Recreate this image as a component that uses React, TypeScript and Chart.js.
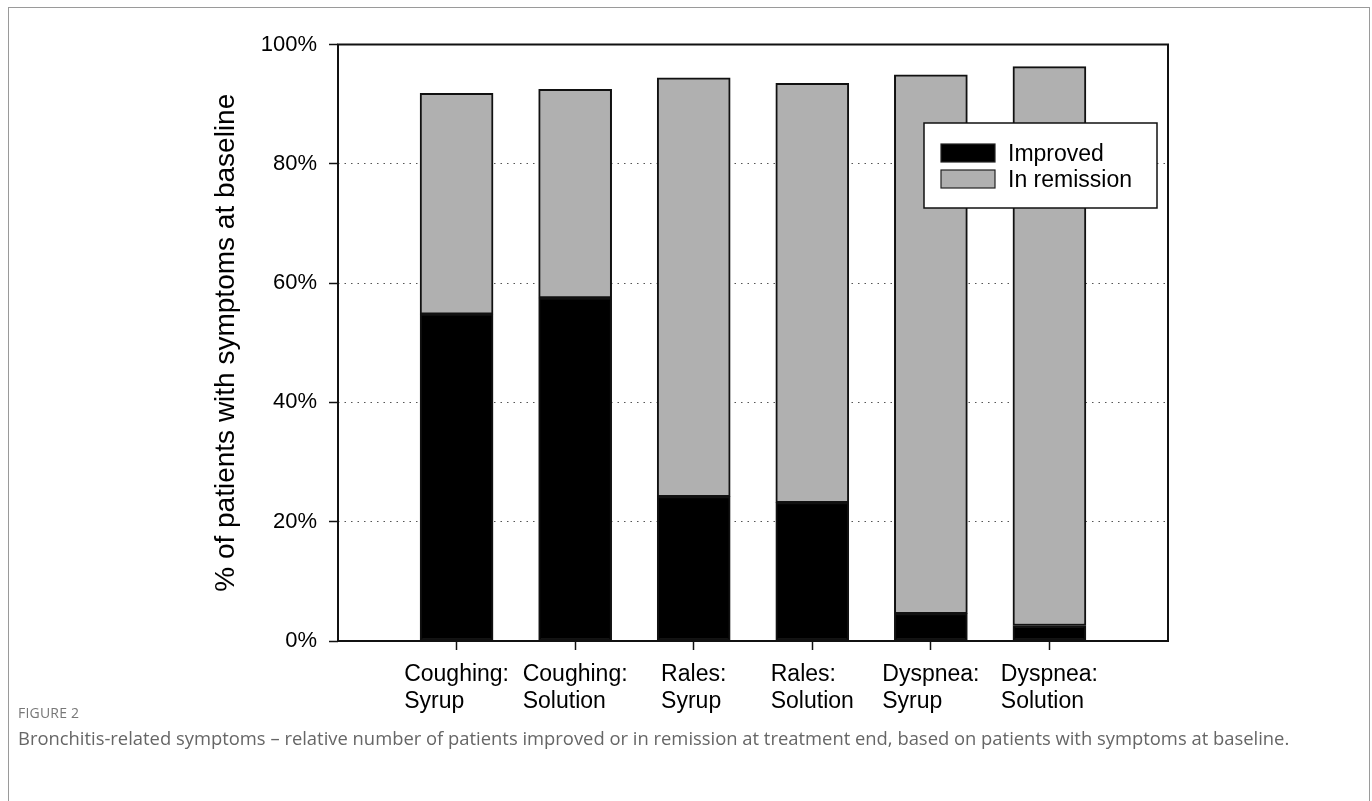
import React, { useEffect, useRef } from "react";
import { Chart, registerables } from "chart.js";

Chart.register(...registerables);

const categories: string[][] = [
  ["Coughing:", "Syrup"],
  ["Coughing:", "Solution"],
  ["Rales:", "Syrup"],
  ["Rales:", "Solution"],
  ["Dyspnea:", "Syrup"],
  ["Dyspnea:", "Solution"],
];
const improved: number[] = [54.8, 57.5, 24.2, 23.2, 4.6, 2.6];
const totalResponders: number[] = [91.8, 92.5, 94.4, 93.5, 94.9, 96.3];
const remission: number[] = totalResponders.map((t, i) => +(t - improved[i]).toFixed(1));
const yTicks: number[] = [0, 20, 40, 60, 80, 100];
const seriesNames: string[] = ["Improved", "In remission"];
const seriesColors: string[] = ["#000000", "#b0b0b0"];

const FONT = "Liberation Sans, Arial, sans-serif";

const W = 1360;
const H = 720;

export default function App() {
  const ref = useRef<HTMLCanvasElement | null>(null);

  useEffect(() => {
    if (!ref.current) return;
    const labels = ["", ...categories.map((c) => c.join(" ")), ""];
    const pad = (arr: number[]) => [null, ...arr, null];

    const boxPlugin = {
      id: "boxPlugin",
      afterDatasetsDraw(chart: any) {
        const { ctx, chartArea } = chart;
        ctx.save();
        ctx.strokeStyle = "#111";
        ctx.lineWidth = 2;
        ctx.strokeRect(chartArea.left, chartArea.top, chartArea.right - chartArea.left, chartArea.bottom - chartArea.top);
        ctx.restore();
      },
      afterDraw(chart: any) {
        const { ctx } = chart;
        const xs = chart.scales.x;
        ctx.save();
        ctx.font = `23px ${FONT}`;
        ctx.fillStyle = "#000";
        ctx.textBaseline = "alphabetic";
        ctx.textAlign = "left";
        categories.forEach((lines, i) => {
          const px = xs.getPixelForValue(i + 1);
          const w = Math.max(...lines.map((l) => ctx.measureText(l).width));
          const left = px - w / 2;
          lines.forEach((l, j) => {
            ctx.fillText(l, left, 673 + j * 27);
          });
        });
        // legend
        const lx = 915, ly = 115, lw = 233, lh = 85;
        ctx.fillStyle = "#fff";
        ctx.fillRect(lx, ly, lw, lh);
        ctx.strokeStyle = "#111";
        ctx.lineWidth = 1.5;
        ctx.strokeRect(lx, ly, lw, lh);
        chart.data.datasets.forEach((ds: any, i: number) => {
          const sy = 136 + i * 26;
          ctx.fillStyle = ds.backgroundColor;
          ctx.fillRect(932, sy, 54, 18);
          ctx.strokeStyle = "#222";
          ctx.lineWidth = 1.2;
          ctx.strokeRect(932, sy, 54, 18);
          ctx.fillStyle = "#000";
          ctx.font = `23px ${FONT}`;
          ctx.fillText(ds.label, 999, 153 + i * 26);
        });
        ctx.restore();
      },
    };

    const chart = new Chart(ref.current, {
      type: "bar",
      data: {
        labels,
        datasets: [
          {
            label: seriesNames[0],
            data: pad(improved) as any,
            backgroundColor: seriesColors[0],
            borderColor: "#111",
            borderWidth: 2,
            borderSkipped: false,
            barThickness: 73,
          },
          {
            label: seriesNames[1],
            data: pad(remission) as any,
            backgroundColor: seriesColors[1],
            borderColor: "#111",
            borderWidth: 2,
            borderSkipped: false,
            barThickness: 73,
          },
        ],
      },
      options: {
        responsive: false,
        animation: false,
        layout: { padding: { top: 36.5, right: 201, bottom: 0, left: 0 } },
        plugins: { legend: { display: false }, tooltip: { enabled: false } },
        scales: {
          x: {
            stacked: true,
            offset: false,
            grid: {
              offset: false,
              drawOnChartArea: false,
              drawTicks: true,
              tickLength: 9,
              tickWidth: 1.5,
              tickColor: (c: any) => (c.index === 0 || c.index === labels.length - 1 ? "rgba(0,0,0,0)" : "#111"),
            },
            border: { display: false },
            ticks: { display: false },
            afterFit: (s: any) => {
              s.height = H - 633;
            },
          },
          y: {
            stacked: true,
            min: 0,
            max: 100,
            afterBuildTicks: (s: any) => {
              s.ticks = yTicks.map((v) => ({ value: v }));
            },
            grid: {
              color: "#555",
              lineWidth: 1,
              tickLength: 9,
              tickWidth: 1.5,
              tickColor: "#111",
              tickBorderDash: [],
            },
            border: { display: false, dash: [1.5, 5] },
            ticks: {
              padding: 12,
              color: "#000",
              font: { family: FONT, size: 22 },
              callback: (v: any) => `${v}%`,
            },
            title: {
              display: true,
              text: "% of patients with symptoms at baseline",
              color: "#000",
              font: { family: FONT, size: 28 },
              padding: { top: 200, bottom: 0 },
            },
            afterFit: (s: any) => {
              s.width = 329;
            },
          },
        },
      },
      plugins: [boxPlugin],
    });
    return () => chart.destroy();
  }, []);

  return (
    <div
      style={{
        position: "fixed",
        left: 8,
        top: 7,
        width: W,
        height: 820,
        border: "1px solid #9a9a9a",
        background: "#fff",
      }}
    >
      <canvas ref={ref} width={W} height={H} style={{ position: "absolute", left: 0, top: 0, width: W, height: H }} />
      <div
        style={{
          position: "absolute",
          left: 9,
          top: 695,
          fontFamily: "'Open Sans', sans-serif",
          fontSize: 14,
          color: "#777",
          letterSpacing: 0.2,
        }}
      >
        FIGURE 2
      </div>
      <div
        style={{
          position: "absolute",
          left: 9,
          top: 717,
          fontFamily: "'Open Sans', sans-serif",
          fontSize: 18.4,
          color: "#666",
          whiteSpace: "nowrap",
        }}
      >
        Bronchitis-related symptoms – relative number of patients improved or in remission at treatment end, based on patients with symptoms at baseline.
      </div>
    </div>
  );
}
